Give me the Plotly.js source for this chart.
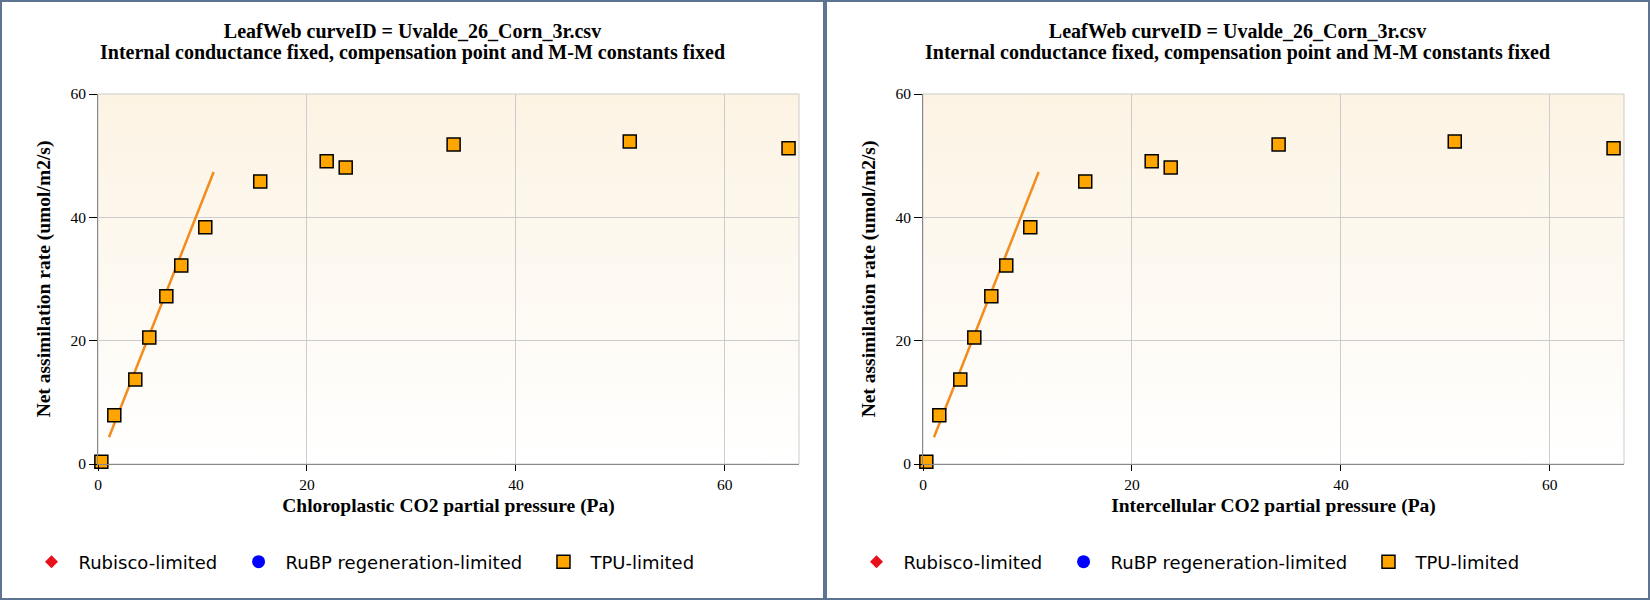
<!DOCTYPE html>
<html>
<head>
<meta charset="utf-8">
<script src="https://cdn.plot.ly/plotly-3.0.1.min.js"></script>
<style>
  body { margin: 0; background: #ffffff; }
  .panel {
    float: left;
    width: 825px;
    height: 600px;
    box-sizing: border-box;
    border: 2px solid #5e7592;
    background: #ffffff;
  }
</style>
</head>
<body>
<div id="painelCc" class="panel"></div>
<div id="painelCi" class="panel"></div>
<script>
// pontos medidos (todos TPU-limited no gráfico)
const co2Pa = [0.32, 1.56, 3.57, 4.91, 6.54, 7.97, 10.27, 15.53, 21.89, 23.71, 34.04, 50.9, 66.1];
const assimilacao = [0.37, 7.9, 13.7, 20.5, 27.2, 32.2, 38.4, 45.8, 49.1, 48.1, 51.8, 52.3, 51.2];

// linha ajustada (trecho inicial)
const linhaX = [1.05, 11.07];
const linhaY = [4.33, 47.35];

const titulo1 = '<b>LeafWeb curveID = Uvalde_26_Corn_3r.csv</b>';
const titulo2 = '<b>Internal conductance fixed, compensation point and M-M constants fixed</b>';
const tituloY = '<b>Net assimilation rate (umol/m2/s)</b>';
const titulosX = {
  painelCc: '<b>Chloroplastic CO2 partial pressure (Pa)</b>',
  painelCi: '<b>Intercellular CO2 partial pressure (Pa)</b>'
};
// espaço no fim dos nomes para afastar os itens da legenda como no original
const nomesLegenda = ['Rubisco-limited\u00a0\u2009', 'RuBP regeneration-limited\u00a0\u2009', 'TPU-limited'];

// fundo em degradê (svg inline, sem rede)
const fundoSvg = 'data:image/svg+xml;utf8,' + encodeURIComponent(
  '<svg xmlns="http://www.w3.org/2000/svg" width="10" height="100" preserveAspectRatio="none">' +
  '<defs><linearGradient id="g" x1="0" y1="0" x2="0" y2="1">' +
  '<stop offset="0" stop-color="#fcf3e3"/><stop offset="1" stop-color="#ffffff"/>' +
  '</linearGradient></defs><rect width="10" height="100" fill="url(#g)"/></svg>');

const LARGURA = 821, ALTURA = 596;
const margem = { t: 92, l: 96, r: 24, b: 134 };

function desenharPainel(divId) {
  const rubisco = {
    x: [null], y: [null],
    type: 'scatter', mode: 'markers',
    name: nomesLegenda[0],
    marker: { symbol: 'diamond', color: '#e8101a', size: 10 }
  };
  const rubp = {
    x: [null], y: [null],
    type: 'scatter', mode: 'markers',
    name: nomesLegenda[1],
    marker: { symbol: 'circle', color: '#0000ff', size: 13 }
  };
  const linha = {
    x: linhaX, y: linhaY,
    type: 'scatter', mode: 'lines',
    showlegend: false,
    hoverinfo: 'skip',
    line: { color: '#f28c1c', width: 2.5 }
  };
  const tpu = {
    x: co2Pa, y: assimilacao,
    type: 'scatter', mode: 'markers',
    name: nomesLegenda[2],
    cliponaxis: false,
    marker: {
      symbol: 'square', color: '#ffa500', size: 13,
      line: { color: '#000000', width: 1.5 }
    }
  };

  const eixoBase = {
    showline: true,
    linecolor: '#888888',
    linewidth: 1,
    gridcolor: '#cccccc',
    gridwidth: 1,
    zeroline: false,
    ticks: 'outside',
    tickcolor: '#000000',
    tickfont: { family: 'Liberation Serif', size: 15.5, color: '#000000' },
    dtick: 20,
    tick0: 0
  };

  const alturaPlot = ALTURA - margem.t - margem.b;
  const larguraPlot = LARGURA - margem.l - margem.r;

  const layout = {
    width: LARGURA,
    height: ALTURA,
    title: {
      text: titulo1,
      font: { family: 'Liberation Serif', size: 20, color: '#000000' },
      x: 0.5, xref: 'container',
      y: 1 - 28.5 / ALTURA, yref: 'container', yanchor: 'middle'
    },
    annotations: [{
      text: titulo2,
      font: { family: 'Liberation Serif', size: 20, color: '#000000' },
      showarrow: false,
      xref: 'paper', yref: 'paper',
      x: (LARGURA / 2 - margem.l) / larguraPlot,
      y: 1 + (margem.t - 50.5) / alturaPlot,
      xanchor: 'center', yanchor: 'middle'
    }],
    xaxis: Object.assign({}, eixoBase, {
      range: [0, 67.1],
      ticklen: 6,
      title: {
        text: titulosX[divId],
        font: { family: 'Liberation Serif', size: 19.5, color: '#000000' },
        standoff: 6
      }
    }),
    yaxis: Object.assign({}, eixoBase, {
      range: [0, 60],
      ticklen: 8,
      title: {
        text: tituloY,
        font: { family: 'Liberation Serif', size: 19.5, color: '#000000' },
        standoff: 14
      }
    }),
    showlegend: true,
    legend: {
      orientation: 'h',
      itemwidth: 44,
      x: 22.5 / LARGURA, xref: 'container', xanchor: 'left',
      y: 1 - 560 / ALTURA, yref: 'container', yanchor: 'middle',
      font: { family: 'DejaVu Sans', size: 18, color: '#000000' },
      bgcolor: 'rgba(0,0,0,0)'
    },
    images: [{
      source: fundoSvg,
      xref: 'paper', yref: 'paper',
      x: 0, y: 1, sizex: 1, sizey: 1,
      xanchor: 'left', yanchor: 'top',
      sizing: 'stretch', layer: 'below'
    }],
    shapes: [{
      type: 'rect', xref: 'paper', yref: 'paper',
      x0: 0, y0: 0, x1: 1, y1: 1,
      line: { color: '#cccccc', width: 1 },
      layer: 'below'
    }],
    paper_bgcolor: '#ffffff',
    plot_bgcolor: 'rgba(0,0,0,0)',
    margin: margem
  };

  Plotly.newPlot(divId, [rubisco, rubp, linha, tpu], layout, { displayModeBar: false, responsive: false });
}

desenharPainel('painelCc');
desenharPainel('painelCi');
</script>
</body>
</html>
